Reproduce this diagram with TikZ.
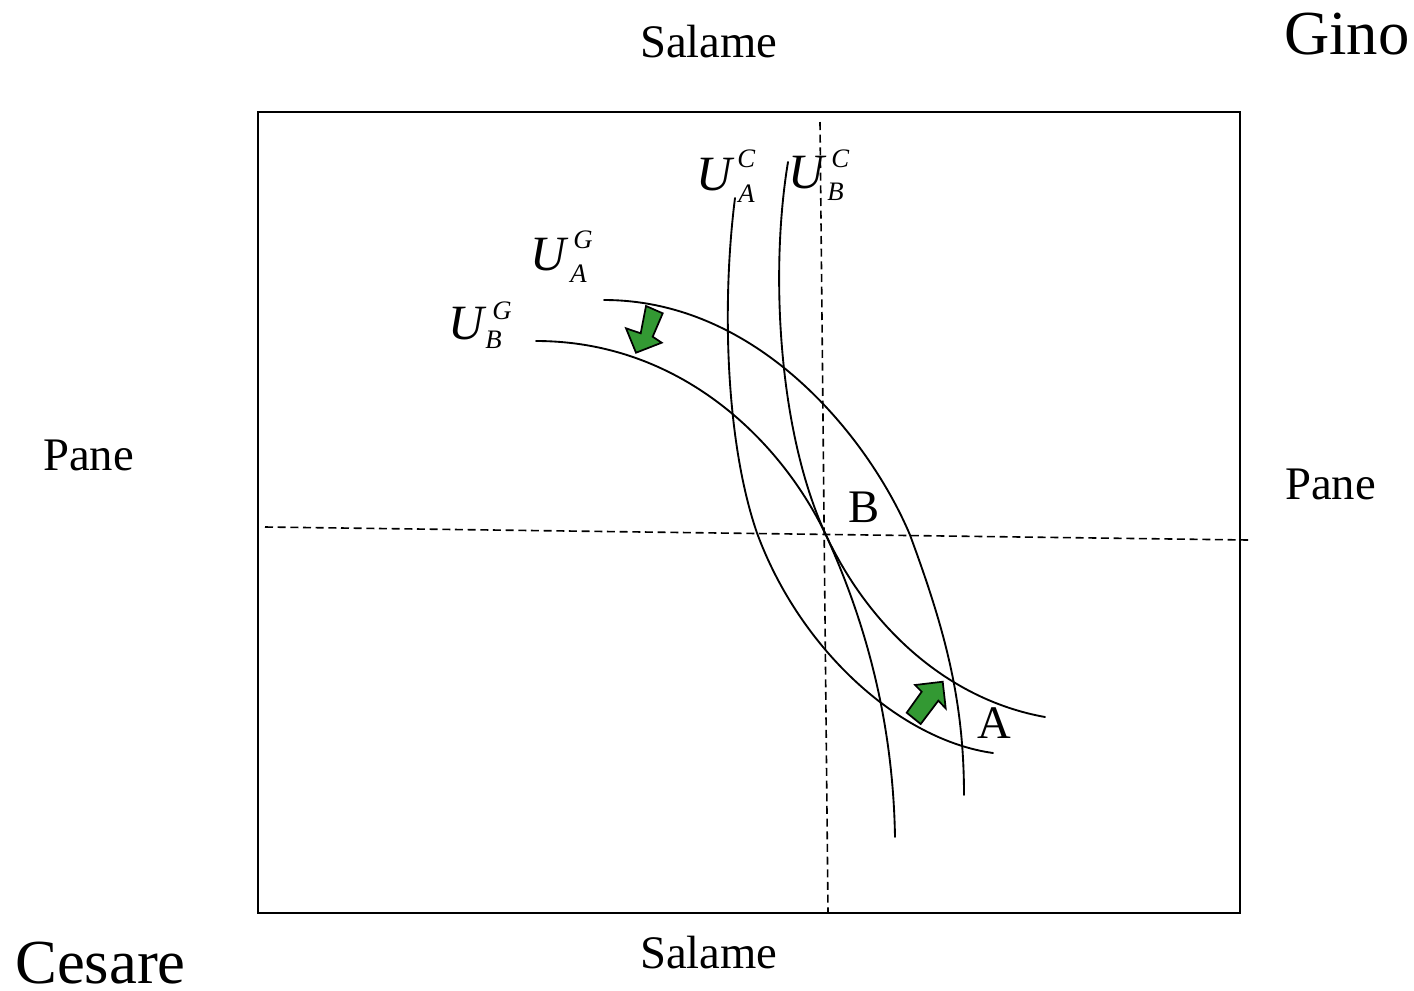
\documentclass[tikz,border=0pt]{standalone}
\usepackage{fontspec}
\setmainfont{Liberation Serif}
\definecolor{arrgreen}{RGB}{51,153,51}
\tikzset{
  curve/.style={line width=1.4pt, line cap=round},
  guide/.style={line width=1.2pt, dash pattern=on 6pt off 3.5pt},
  lbl/.style={inner sep=0pt, anchor=base west, font=\fontsize{35}{40}\selectfont},
  biglbl/.style={inner sep=0pt, anchor=base west, font=\fontsize{47}{52}\selectfont},
  ulbl/.style={inner sep=0pt, anchor=base west, font=\fontsize{37}{40}\selectfont\itshape},
  slbl/.style={inner sep=0pt, anchor=base west, font=\fontsize{20}{24}\selectfont\itshape},
  blockarrow/.style={fill=arrgreen, draw=black, line width=1.3pt, line join=miter}
}
\begin{document}
\begin{tikzpicture}[x=0.75pt, y=-0.75pt]
\useasboundingbox (0,0) rectangle (1414,990);
% box
\draw[line width=1.5pt] (258,112) rectangle (1240,913);
% dashed guides
\coordinate (vt) at (820,122);
\coordinate (vb) at (828,913);
\coordinate (hl) at (265,527);
\coordinate (hr) at (1248,540);
\draw[guide] (vt) -- (vb);
\draw[guide] (hl) -- (hr);
% points B and A area
\coordinate (pB) at (825,533);
% indifference curves
\draw[curve] (735,198) .. controls (722,300) and (725,440) .. (757,533) .. controls (800,650) and (900,740) .. (993,753);
\draw[curve] (788,162) .. controls (770,270) and (778,430) .. (pB) .. controls (870,630) and (950,700) .. (1045,717);
\draw[curve] (604,300) .. controls (760,300) and (870,440) .. (910,535) .. controls (945,630) and (964,700) .. (964,795);
\draw[curve] (536,341) .. controls (680,341) and (780,440) .. (pB) .. controls (865,620) and (893,720) .. (895,837);
% green arrows
\draw[blockarrow] (646,306) -- (662.7,313.3) -- (652.7,336.7) -- (661.7,342.7) -- (636,352.7) -- (626,328.3) -- (640.7,333.3) -- cycle;
\draw[blockarrow] (906.7,712.7) -- (920.7,724) -- (938.3,700.7) -- (945.7,708.3) -- (942.7,681.7) -- (915,685) -- (921.7,691.7) -- cycle;
% texts
\node[lbl] (salT) at (640,57) {Salame};
\node[lbl] (salB) at (640,968) {Salame};
\node[lbl] (paneL) at (43,470) {Pane};
\node[lbl] (paneR) at (1285,499) {Pane};
\node[lbl] (B) at (848,522) {B};
\node[lbl] (A) at (977,738) {A};
\node[biglbl] (gino) at (1284,54) {Gino};
\node[biglbl] (cesare) at (15,983) {Cesare};
% utility labels
\node[ulbl] (uca) at (696,190) {U};
\node[slbl] (ucaS) at (737,167) {C};
\node[slbl] (ucaI) at (738,202) {A};
\node[ulbl] (ucb) at (788,188) {U};
\node[slbl] (ucbS) at (831,167) {C};
\node[slbl] (ucbI) at (827,200) {B};
\node[ulbl] (uga) at (530,270) {U};
\node[slbl] (ugaS) at (573,248) {G};
\node[slbl] (ugaI) at (570,282) {A};
\node[ulbl] (ugb) at (448,339) {U};
\node[slbl] (ugbS) at (492,319) {G};
\node[slbl] (ugbI) at (485,348) {B};
\end{tikzpicture}
\end{document}
